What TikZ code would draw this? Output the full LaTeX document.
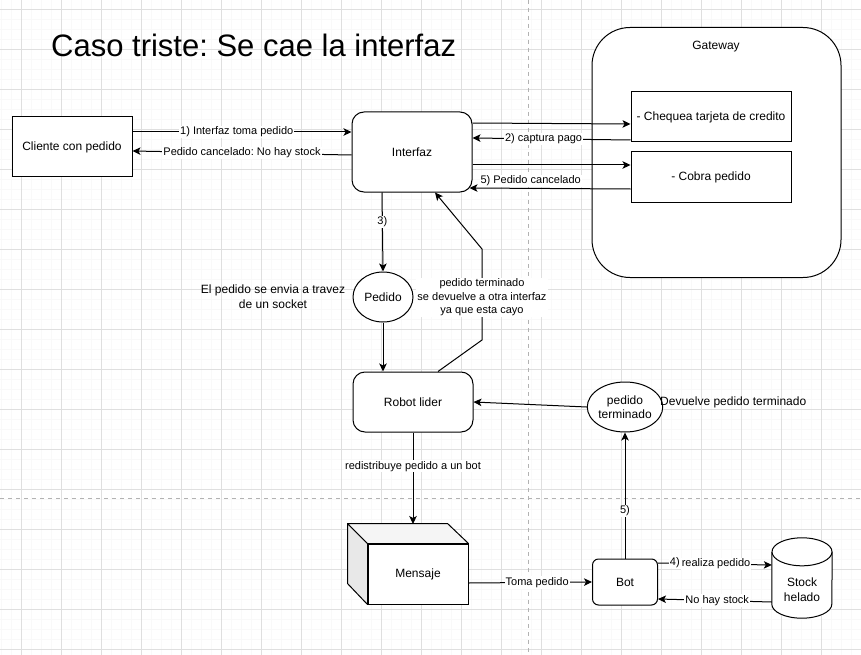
\documentclass[tikz,border=0pt]{standalone}
\usepackage{fontspec}
\setmainfont{Liberation Sans}
\frenchspacing
\usetikzlibrary{shapes.geometric, arrows.meta, positioning, calc}

\begin{document}
\begin{tikzpicture}[
    x=1pt, y=-1pt,
    every node/.style={font=\fontsize{12}{15}\selectfont, text=black},
    box/.style={rectangle, draw, fill=white, line width=1pt, inner sep=2pt, align=center},
    rbox/.style={box, rounded corners=12pt},
    circbox/.style={ellipse, draw, fill=white, line width=1pt, inner sep=0pt,
                    align=center, minimum width=60pt, minimum height=50pt},
    lbl/.style={fill=white, inner sep=1pt, font=\fontsize{11}{13.3}\selectfont, align=center},
    note/.style={align=center},
    arr/.style={-{Stealth[length=8pt, width=7.5pt, inset=2pt]}, line width=1pt},
]

% page and grid
\useasboundingbox (0,0) rectangle (861,655);
\fill[white] (0,0) rectangle (861,655);
\foreach \gx in {1.7,11.7,...,861} \draw[gray!5, line width=0.6pt] (\gx,0) -- (\gx,655);
\foreach \gy in {9.3,19.3,...,655} \draw[gray!5, line width=0.6pt] (0,\gy) -- (861,\gy);
\foreach \gx in {21.7,61.7,...,861} \draw[gray!25, line width=0.7pt] (\gx,0) -- (\gx,655);
\foreach \gy in {9.3,49.3,...,655} \draw[gray!25, line width=0.7pt] (0,\gy) -- (861,\gy);
\draw[gray!60, dash pattern=on 4pt off 4pt, line width=0.7pt] (528,0) -- (528,655);
\draw[gray!60, dash pattern=on 4pt off 4pt, line width=0.7pt] (0,498) -- (861,498);

\node[anchor=base west, inner sep=0pt, font=\fontsize{31}{36}\selectfont] (title) at (51,57) {Caso triste: Se cae la interfaz};

% gateway
\node[box, rounded corners=38pt, minimum width=249pt, minimum height=250pt] (gateway) at (716.5,152.5) {};
\node[note] (gwname) at (716,47) {Gateway};
\node[box, minimum width=160pt, minimum height=50pt] (chequea) at (711,117) {- Chequea tarjeta de credito};
\node[box, minimum width=160pt, minimum height=50pt] (cobra) at (711,177) {- Cobra pedido};

% main flow
\node[box, minimum width=120pt, minimum height=60pt] (cliente) at (72,147) {Cliente con pedido};
\node[rbox, minimum width=120pt, minimum height=80pt] (interfaz) at (412,152) {Interfaz};
\node[circbox] (pedido) at (383,297) {Pedido};
\node[note] (socket) at (273,297) {El pedido se envia a travez\\de un socket};
\node[rbox, minimum width=120pt, minimum height=60pt] (robot) at (413,402) {Robot lider};
\node[circbox, font=\fontsize{12}{14.3}\selectfont] (terminado) at (625,407) {pedido\\terminado};
\node[note, anchor=west, inner sep=0pt] (devuelve) at (660,402) {Devuelve pedido terminado};

% mensaje cube
\node[box, minimum width=100pt, minimum height=60pt] (mensaje) at (418,574) {Mensaje};
\filldraw[fill=gray!18, line width=1pt, line join=round] (mensaje.north west) -- ++(-20,-20) -- ++(0,60) -- (mensaje.south west) -- cycle;
\filldraw[fill=gray!8, line width=1pt, line join=round] (mensaje.north west) -- ++(-20,-20) -- ++(100,0) -- (mensaje.north east) -- cycle;
\coordinate (mtop) at (413,524);

\node[rbox, rounded corners=6pt, minimum width=65pt, minimum height=46pt] (bot) at (625,582) {Bot};

% stock cylinder
\node[minimum width=60pt, minimum height=80pt, inner sep=0pt] (stock) at (802,578) {};
\draw[fill=white, line width=1pt] ([yshift=-14pt]stock.north west) -- ([yshift=14pt]stock.south west)
    arc[start angle=180, end angle=0, x radius=30, y radius=14] -- ([yshift=-14pt]stock.north east);
\draw[fill=white, line width=1pt] ([yshift=-14pt]stock.north) ellipse [x radius=30, y radius=14];
\node[note] (stocktxt) at (802,590) {Stock\\helado};

% connectors
\draw[arr] ([yshift=15pt]cliente.east) -- node[lbl, pos=0.476] {1) Interfaz toma pedido} ([yshift=20pt]interfaz.west);
\draw[arr] ([yshift=-3pt]interfaz.west) -- node[lbl, pos=0.5] {Pedido cancelado: No hay stock} ([yshift=-4pt]cliente.east);
\draw[arr] ([yshift=29pt]interfaz.east) -- ([yshift=-7pt]chequea.west);
\draw[arr] ([yshift=-23pt]chequea.west) -- node[lbl, pos=0.55] {2) captura pago} ([yshift=14pt]interfaz.east);
\draw[arr] ([yshift=-13pt]interfaz.east) -- ([yshift=12pt]cobra.west);
\draw[arr] ([yshift=-12pt]cobra.west) -- node[lbl, above=1pt, pos=0.62] {5) Pedido cancelado} ([xshift=-3pt, yshift=-36pt]interfaz.east);
\draw[arr] ([xshift=-30pt]interfaz.south) -- node[lbl, pos=0.375] {3)} (pedido.north);
\draw[arr] (pedido.south) -- (pedido.south |- robot.north);

\coordinate (bend1) at (482,340);
\coordinate (bend2) at (482,249);
\draw[arr] ([xshift=25pt]robot.north) -- (bend1)
    -- node[lbl, pos=0.47] {pedido terminado\\se devuelve a otra interfaz\\ya que esta cayo} (bend2)
    -- ([xshift=23pt]interfaz.south);

\draw[arr] (terminado.west) -- (robot.east);
\draw[arr] (robot.south) -- node[lbl, pos=0.37] {redistribuye pedido a un bot} (mtop);
\draw[arr] ([yshift=-9pt]mensaje.east) -- node[lbl, pos=0.556] {Toma pedido} (bot.west);
\draw[arr] (bot.north) -- node[lbl, pos=0.38] {5)} (terminado.south);
\draw[arr] ([yshift=19pt]bot.east) -- node[lbl, pos=0.148, yshift=1pt] {4)} node[lbl, pos=0.51] {realiza pedido} ([yshift=13pt]stock.west);
\draw[arr] ([yshift=-24pt]stock.west) -- node[lbl, pos=0.48] {No hay stock} ([yshift=-17pt]bot.east);

\end{tikzpicture}
\end{document}
